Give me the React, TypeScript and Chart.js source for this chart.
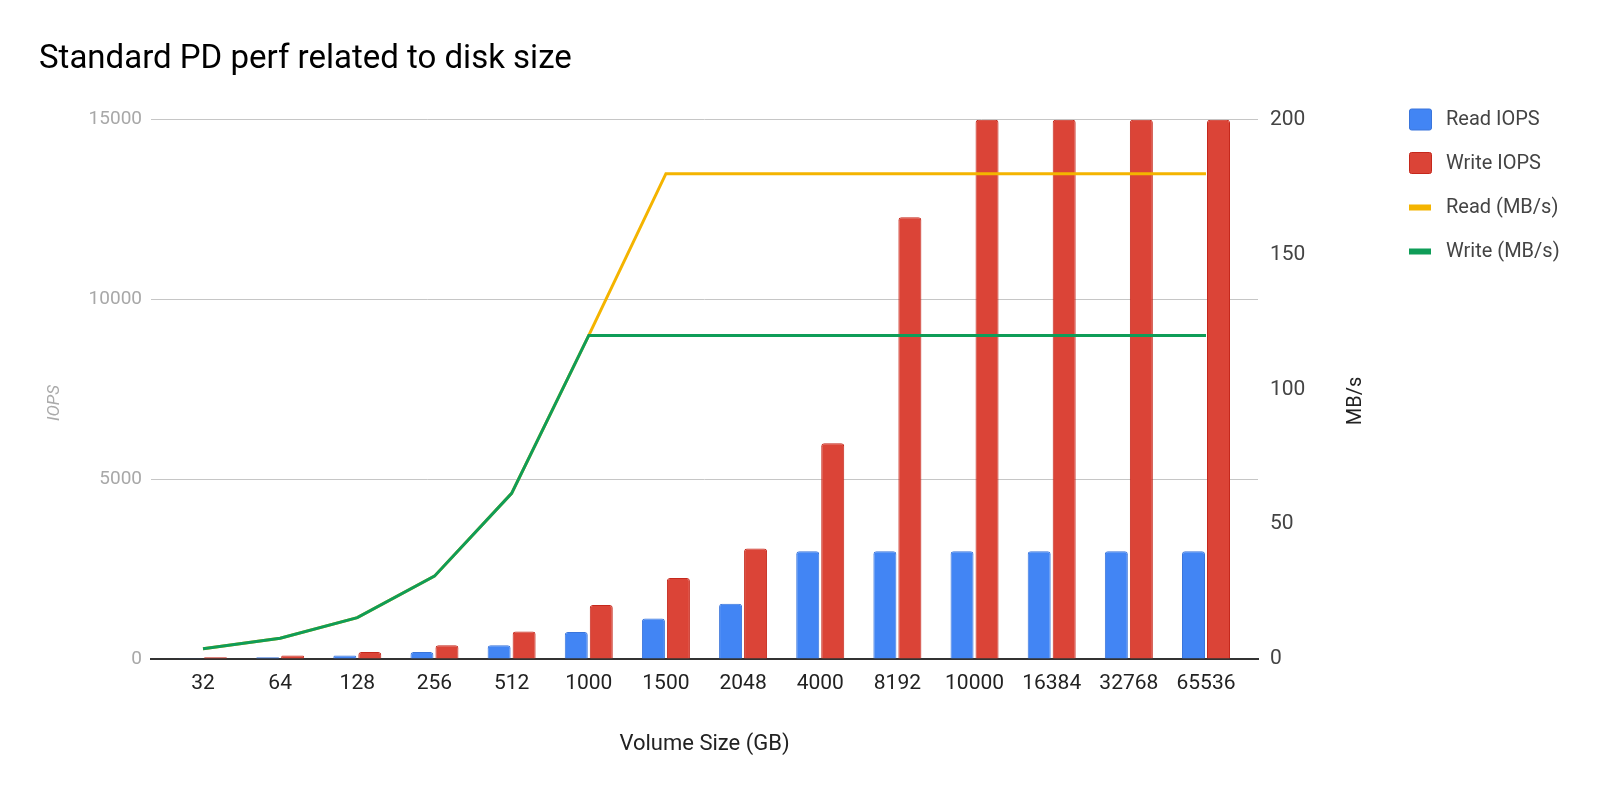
import React, { useEffect, useRef } from 'react';
import { Chart, registerables } from 'chart.js';

Chart.register(...registerables);

const chartTitle = 'Standard PD perf related to disk size';
const xAxisTitle = 'Volume Size (GB)';
const leftAxisTitle = 'IOPS';
const rightAxisTitle = 'MB/s';

const categories = ['32', '64', '128', '256', '512', '1000', '1500', '2048', '4000', '8192', '10000', '16384', '32768', '65536'];
const readIops = [24, 48, 96, 192, 384, 750, 1125, 1536, 3000, 3000, 3000, 3000, 3000, 3000];
const writeIops = [48, 96, 192, 384, 768, 1500, 2250, 3072, 6000, 12288, 15000, 15000, 15000, 15000];
const readMBs = [3.84, 7.68, 15.36, 30.72, 61.44, 120, 180, 180, 180, 180, 180, 180, 180, 180];
const writeMBs = [3.84, 7.68, 15.36, 30.72, 61.44, 120, 120, 120, 120, 120, 120, 120, 120, 120];
const iopsTickStep = 5000;
const mbTickStep = 50;

const BLUE = '#4285F4';
const BLUE_B = '#3A75DB';
const RED = '#DB4437';
const RED_B = '#C5281C';
const YELLOW = '#F4B400';
const GREEN = '#0F9D58';

export default function App() {
  const ref = useRef<HTMLCanvasElement | null>(null);

  useEffect(() => {
    document.body.style.margin = '0';
    const canvas = ref.current;
    if (!canvas) return;
    Chart.defaults.font.family = 'Roboto';

    const toXY = (arr: number[]) => arr.map((v, i) => ({ x: i, y: v }));

    const legendPlugin = {
      id: 'customLegend',
      afterDraw(chart: any) {
        const c = chart.ctx as CanvasRenderingContext2D;
        const rows = [119.5, 163, 207.5, 251.5];
        chart.data.datasets.forEach((ds: any, i: number) => {
          const cy = rows[i];
          c.save();
          if (ds.type === 'bar') {
            c.fillStyle = ds.backgroundColor;
            c.strokeStyle = ds.borderColor;
            c.lineWidth = 1;
            c.beginPath();
            (c as any).roundRect(1409.5, cy - 10.5, 22, 21, 2);
            c.fill();
            c.stroke();
          } else {
            c.fillStyle = ds.borderColor;
            c.fillRect(1409, cy - 3, 22, 6);
          }
          c.fillStyle = '#444';
          c.font = '20px Roboto';
          c.textAlign = 'left';
          c.textBaseline = 'middle';
          c.fillText(ds.label, 1446, cy + 0.5);
          c.restore();
        });
      },
    };

    const axisTitlePlugin = {
      id: 'axisTitles',
      afterDraw(chart: any) {
        const c = chart.ctx as CanvasRenderingContext2D;
        c.save();
        c.textAlign = 'center';
        c.textBaseline = 'middle';
        c.translate(55, 403);
        c.rotate(-Math.PI / 2);
        c.font = 'italic 17px Roboto';
        c.fillStyle = '#aaaaaa';
        c.fillText(leftAxisTitle, 0, 0);
        c.restore();
        c.save();
        c.textAlign = 'center';
        c.textBaseline = 'middle';
        c.translate(1356, 401);
        c.rotate(-Math.PI / 2);
        c.font = '20px Roboto';
        c.fillStyle = '#222';
        c.fillText(rightAxisTitle, 0, 0);
        c.restore();
      },
    };

    const chart = new Chart(canvas, {
      type: 'bar',
      data: {
        datasets: [
          {
            type: 'bar',
            label: 'Read IOPS',
            data: toXY(readIops),
            backgroundColor: BLUE,
            borderColor: BLUE_B,
            borderWidth: 1,
            borderRadius: 3,
            borderSkipped: 'bottom',
            yAxisID: 'y',
            order: 3,
            categoryPercentage: 0.648,
            barPercentage: 0.92,
          },
          {
            type: 'bar',
            label: 'Write IOPS',
            data: toXY(writeIops),
            backgroundColor: RED,
            borderColor: RED_B,
            borderWidth: 1,
            borderRadius: 3,
            borderSkipped: 'bottom',
            yAxisID: 'y',
            order: 4,
            categoryPercentage: 0.648,
            barPercentage: 0.92,
          },
          {
            type: 'line',
            label: 'Read (MB/s)',
            data: toXY(readMBs),
            borderColor: YELLOW,
            backgroundColor: YELLOW,
            borderWidth: 3,
            pointRadius: 0,
            tension: 0,
            yAxisID: 'y1',
            order: 2,
          },
          {
            type: 'line',
            label: 'Write (MB/s)',
            data: toXY(writeMBs),
            borderColor: GREEN,
            backgroundColor: GREEN,
            borderWidth: 3,
            pointRadius: 0,
            tension: 0,
            yAxisID: 'y1',
            order: 1,
          },
        ],
      } as any,
      options: {
        animation: false,
        responsive: false,
        events: [],
        layout: { padding: { left: 39, right: 222, top: 0, bottom: 0 } },
        plugins: {
          legend: { display: false },
          tooltip: { enabled: false },
          title: {
            display: true,
            text: chartTitle,
            align: 'start',
            color: '#000',
            font: { size: 33, weight: 'normal' },
            padding: { top: 39.7, bottom: 40.4 },
          },
        },
        scales: {
          x: {
            type: 'linear',
            offset: false,
            min: -0.674,
            max: 13.674,
            afterBuildTicks: (s: any) => {
              s.ticks = categories.map((_, i) => ({ value: i }));
            },
            ticks: {
              callback: (v: any) => categories[v as number] ?? '',
              color: '#222',
              font: { size: 21 },
              padding: 12,
              autoSkip: false,
              maxRotation: 0,
            },
            grid: { display: false, drawTicks: false, offset: false },
            border: { display: true, color: '#333', width: 2 },
            title: {
              display: true,
              text: xAxisTitle,
              color: '#222',
              font: { size: 22 },
              padding: { top: 0, bottom: 39 },
            },
            afterFit: (s: any) => {
              s.height = 138;
            },
          },
          y: {
            position: 'left',
            min: 0,
            max: 15000,
            ticks: {
              stepSize: iopsTickStep,
              color: '#a8a8a8',
              font: { size: 19 },
              padding: 9,
              callback: (v: any) => String(v),
            },
            grid: { color: '#c6c6c6', drawTicks: false },
            border: { display: false },
            afterFit: (s: any) => {
              s.width = 112;
            },
          },
          y1: {
            position: 'right',
            min: 0,
            max: 200,
            ticks: {
              stepSize: mbTickStep,
              color: '#444',
              font: { size: 21 },
              padding: 12,
              callback: (v: any) => String(v),
            },
            grid: { display: false, drawTicks: false },
            border: { display: false },
            afterFit: (s: any) => {
              s.width = 120;
            },
          },
        },
      } as any,
      plugins: [legendPlugin, axisTitlePlugin],
    });

    return () => {
      chart.destroy();
    };
  }, []);

  return (
    <div style={{ width: 1600, height: 797 }}>
      <canvas ref={ref} width={1600} height={797} style={{ display: 'block' }} />
    </div>
  );
}
